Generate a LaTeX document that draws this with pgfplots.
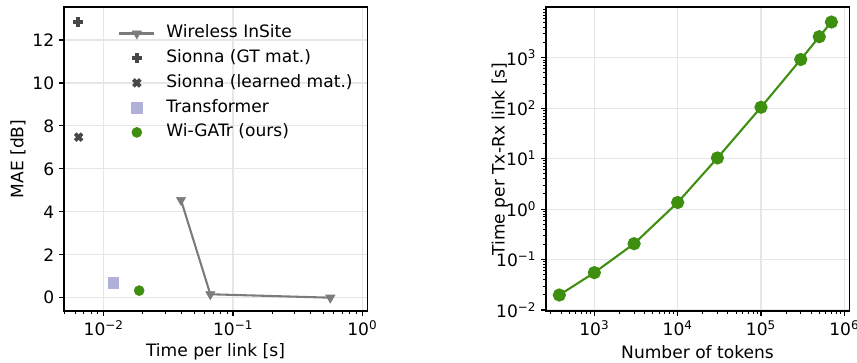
\documentclass[border=0pt]{standalone}
\usepackage{fontspec}
\setmainfont{DejaVu Sans}
\usepackage{pgfplots}
\pgfplotsset{compat=1.18}
\definecolor{wigreen}{HTML}{3E8E10}
\definecolor{sgray}{HTML}{474747}
\definecolor{wgray}{HTML}{7B7B7B}
\definecolor{tlav}{HTML}{B0B0D8}
\definecolor{gridc}{HTML}{E6E6E6}
\newcommand{\sm}{\fontsize{12.3}{14.8}\selectfont}
\newcommand{\tp}[1]{10\textsuperscript{#1}}
\pgfplotsset{mystyle/.style={
  scale only axis, width=218.2pt, height=218.9pt,
  axis line style={line width=0.8pt},
  tick align=outside, tick pos=left,
  major tick length=3.5pt, minor tick length=2pt,
  every tick/.style={black, line width=0.8pt},
  every minor tick/.style={black, line width=0.6pt},
  grid=major, major grid style={gridc, line width=0.8pt},
  tick label style={font=\sm},
  label style={font=\sm},
  /pgf/number format/assume math mode=true,
  xlabel style={at={(axis description cs:0.5,-0.135)}, anchor=center},
  ylabel style={at={(axis description cs:-0.152,0.5)}, anchor=center},
}}
\begin{document}
\begin{tikzpicture}[x=1pt,y=1pt]
\clip (0,0) rectangle (617.04,260.64);
\begin{axis}[mystyle, at={(46.08pt,36.72pt)}, anchor=south west,
  xmode=log, xmin=0.00493, xmax=1.087, ymin=-0.62, ymax=13.54,
  xtick={0.01,0.1,1}, xticklabels={\tp{\textminus2},\tp{\textminus1},\tp{0}},
  minor xtick={0.005,0.006,0.007,0.008,0.009,0.02,0.03,0.04,0.05,0.06,0.07,0.08,0.09,0.2,0.3,0.4,0.5,0.6,0.7,0.8,0.9},
  ytick={0,2,4,6,8,10,12},
  xlabel={Time per link [s]}, ylabel={MAE [dB]},
  legend image code/.code={\draw[mark repeat=2,mark phase=2,#1] plot coordinates {(0pt,0pt) (12.5pt,0pt) (25pt,0pt)};},
  legend style={draw=none, fill=none, at={(0.165,0.955)}, anchor=north west, font=\sm,
    row sep=3.7pt, nodes={inner sep=1pt, text height=9.2pt, text depth=2.9pt},
    /tikz/every odd column/.append style={column sep=7pt}},
  legend cell align=left,
]
\addplot[wgray, line width=1.5pt, mark=triangle*, mark size=3.8pt, mark options={rotate=180, fill=wgray, draw=wgray, line width=0.5pt}]
  coordinates {(0.0396,4.55) (0.0667,0.16) (0.565,0.0)};
\addlegendentry{Wireless InSite}
\addplot[only marks, sgray, mark=+, mark size=3.7pt, mark options={line width=2.7pt}]
  coordinates {(0.0063,12.83)};
\addlegendentry{Sionna (GT mat.)}
\addplot[only marks, sgray, mark=x, mark size=3.5pt, mark options={line width=2.7pt}]
  coordinates {(0.0064,7.48)};
\addlegendentry{Sionna (learned mat.)}
\addplot[only marks, tlav, mark=square*, mark size=3.8pt, mark options={fill=tlav, draw=tlav}]
  coordinates {(0.0119,0.70)};
\addlegendentry{Transformer}
\addplot[only marks, wigreen, mark=*, mark size=3.6pt, mark options={fill=wigreen, draw=wigreen}]
  coordinates {(0.0188,0.33)};
\addlegendentry{Wi-GATr (ours)}
\end{axis}
\begin{axis}[mystyle, at={(393.12pt,36.72pt)}, anchor=south west,
  xmode=log, ymode=log, xmin=263, xmax=1.14e6, ymin=0.00955, ymax=1.01e4,
  xtick={1000,10000,100000,1000000}, xticklabels={\tp{3},\tp{4},\tp{5},\tp{6}},
  minor xtick={300,400,500,600,700,800,900,2000,3000,4000,5000,6000,7000,8000,9000,20000,30000,40000,50000,60000,70000,80000,90000,200000,300000,400000,500000,600000,700000,800000,900000},
  ytick={0.01,0.1,1,10,100,1000}, yticklabels={\tp{\textminus2},\tp{\textminus1},\tp{0},\tp{1},\tp{2},\tp{3}},
  minor ytick={0.02,0.03,0.04,0.05,0.06,0.07,0.08,0.09,0.2,0.3,0.4,0.5,0.6,0.7,0.8,0.9,2,3,4,5,6,7,8,9,20,30,40,50,60,70,80,90,200,300,400,500,600,700,800,900,2000,3000,4000,5000,6000,7000,8000,9000},
  xlabel={Number of tokens}, ylabel={Time per Tx-Rx link [s]},
]
\addplot[wigreen, line width=1.5pt, mark=*, mark size=4pt, mark options={fill=wigreen, draw=wigreen}]
  coordinates {(380,0.0198) (1000,0.055) (3000,0.206) (10000,1.35) (30000,10.3) (100000,104) (300000,920) (500000,2600) (700000,5080)};
\end{axis}
\end{tikzpicture}
\end{document}
